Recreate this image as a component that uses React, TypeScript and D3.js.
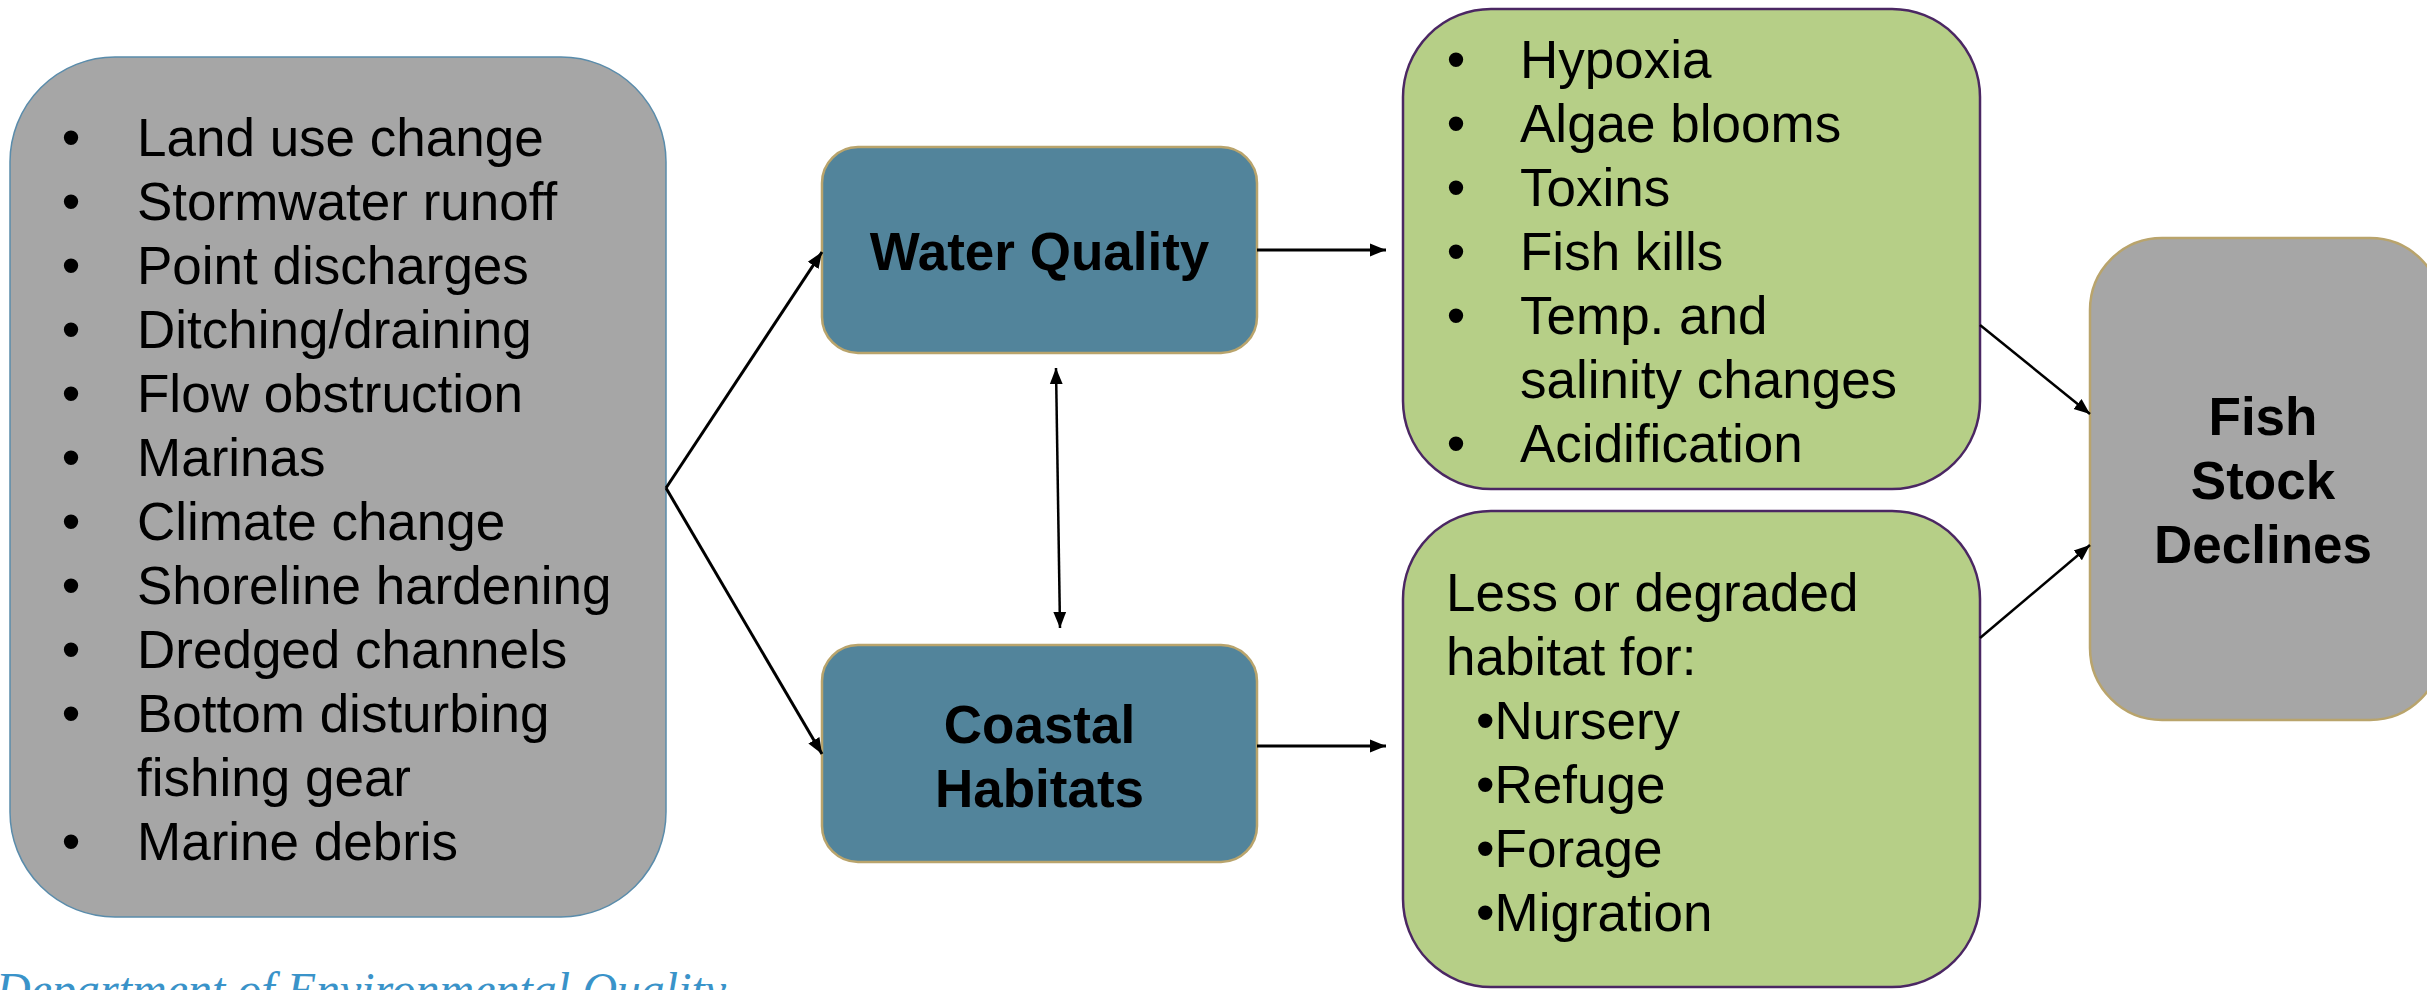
import * as d3 from "d3";
import React, {useEffect, useRef} from "react";

// text content of the diagram
const drivers = [
    "Land use change",
    "Stormwater runoff",
    "Point discharges",
    "Ditching/draining",
    "Flow obstruction",
    "Marinas",
    "Climate change",
    "Shoreline hardening",
    "Dredged channels",
    "Bottom disturbing\nfishing gear",
    "Marine debris",
];
const wqEffects = ["Hypoxia", "Algae blooms", "Toxins", "Fish kills", "Temp. and\nsalinity changes", "Acidification"];
const habitatIntro = ["Less or degraded", "habitat for:"];
const habitatUses = ["Nursery", "Refuge", "Forage", "Migration"];
const wqTitle = ["Water Quality"];
const habitatTitle = ["Coastal", "Habitats"];
const outcome = ["Fish", "Stock", "Declines"];
const footer = "Department of Environmental Quality";

const W = 2427;
const H = 990;
const FONT = "'Liberation Sans', Arial, Helvetica, sans-serif";
const FS = 53;
const LH = 64;

// boxes: x0, y0, x1, y1, radius
const boxes = {
    drivers: {x0: 10, y0: 57, x1: 666, y1: 917, r: 105, fill: "#a6a6a6", stroke: "#5a8cab", sw: 1.5},
    wq: {x0: 822, y0: 147, x1: 1257, y1: 353, r: 36, fill: "#52849b", stroke: "#b9a46c", sw: 2.5},
    habitat: {x0: 822, y0: 645, x1: 1257, y1: 862, r: 36, fill: "#52849b", stroke: "#b9a46c", sw: 2.5},
    effects: {x0: 1403, y0: 9, x1: 1980, y1: 489, r: 88, fill: "#b6cf87", stroke: "#4b2763", sw: 2.5},
    habitatLoss: {x0: 1403, y0: 511, x1: 1980, y1: 987, r: 88, fill: "#b6cf87", stroke: "#4b2763", sw: 2.5},
    outcome: {x0: 2090, y0: 238, x1: 2442, y1: 720, r: 72, fill: "#a6a6a6", stroke: "#b9a46c", sw: 2.5},
};

const App = () => {
    const svgRef = useRef(null);

    useEffect(() => {
        const svg = d3.select(svgRef.current);
        svg.selectAll("*").remove();

        const defs = svg.append("defs");
        const mk = (id, size) => {
            defs.append("marker")
                .attr("id", id)
                .attr("viewBox", "0 0 10 10")
                .attr("refX", 10)
                .attr("refY", 5)
                .attr("markerUnits", "userSpaceOnUse")
                .attr("markerWidth", size)
                .attr("markerHeight", size)
                .attr("orient", "auto-start-reverse")
                .append("path")
                .attr("d", "M0,1 L10,5 L0,9 Z")
                .attr("fill", "#000");
        };
        mk("arr", 16);
        mk("arrS", 15);

        // boxes
        Object.values(boxes).forEach(b => {
            svg.append("rect")
                .attr("x", b.x0).attr("y", b.y0)
                .attr("width", b.x1 - b.x0).attr("height", b.y1 - b.y0)
                .attr("rx", b.r).attr("ry", b.r)
                .attr("fill", b.fill)
                .attr("stroke", b.stroke)
                .attr("stroke-width", b.sw);
        });

        const txt = (x, y, s, opts = {}) => svg.append("text")
            .attr("x", x).attr("y", y)
            .attr("font-family", FONT)
            .attr("font-size", opts.size || FS)
            .attr("font-weight", opts.bold ? "bold" : "normal")
            .attr("text-anchor", opts.anchor || "start")
            .attr("fill", "#000")
            .text(s);

        // bulleted list, continuation lines after "\n"
        const bulletList = (items, bx, tx, y0) => {
            let i = 0;
            items.forEach(it => {
                it.split("\n").forEach((line, j) => {
                    const y = y0 + i * LH;
                    if (j === 0) txt(bx, y, "\u2022", {anchor: "middle"});
                    txt(tx, y, line);
                    i++;
                });
            });
        };
        bulletList(drivers, 71, 137, 156);
        bulletList(wqEffects, 1456, 1520, 78);

        habitatIntro.forEach((s, i) => txt(1446, 611 + i * LH, s));
        habitatUses.forEach((s, i) => txt(1476, 611 + (i + 2) * LH, "\u2022" + s));

        const cx = b => (b.x0 + b.x1) / 2;
        wqTitle.forEach((s, i) => txt(cx(boxes.wq), 270 + i * LH, s, {bold: true, anchor: "middle"}));
        habitatTitle.forEach((s, i) => txt(cx(boxes.habitat), 743 + i * LH, s, {bold: true, anchor: "middle"}));
        outcome.forEach((s, i) => txt(2263, 435 + i * LH, s, {bold: true, anchor: "middle"}));

        // arrows
        const line = d3.line();
        const arrow = (pts, w, both = false) => {
            const p = svg.append("path")
                .attr("d", line(pts))
                .attr("fill", "none")
                .attr("stroke", "#000")
                .attr("stroke-width", w)
                .attr("marker-end", "url(#arr)");
            if (both) p.attr("marker-start", "url(#arr)");
        };
        arrow([[666, 488], [822, 252]], 3);
        arrow([[666, 488], [822, 754]], 3);
        arrow([[1257, 250], [1386, 250]], 3);
        arrow([[1257, 746], [1386, 746]], 3);
        arrow([[1056, 368], [1060, 628]], 2.5, true);
        arrow([[1980, 325], [2090, 414]], 2.5);
        arrow([[1980, 638], [2090, 545]], 2.5);

        // footer, partially cut by the bottom edge
        svg.append("text")
            .attr("x", -4).attr("y", 1006)
            .attr("font-family", "'Liberation Serif', 'Times New Roman', serif")
            .attr("font-style", "italic")
            .attr("font-size", 48)
            .attr("fill", "#3a93c9")
            .text(footer);
    }, []);

    return (
        <svg ref={svgRef} width={W} height={H}
             style={{position: "absolute", left: 0, top: 0, display: "block", background: "#fff"}}/>
    );
};

export default App;
